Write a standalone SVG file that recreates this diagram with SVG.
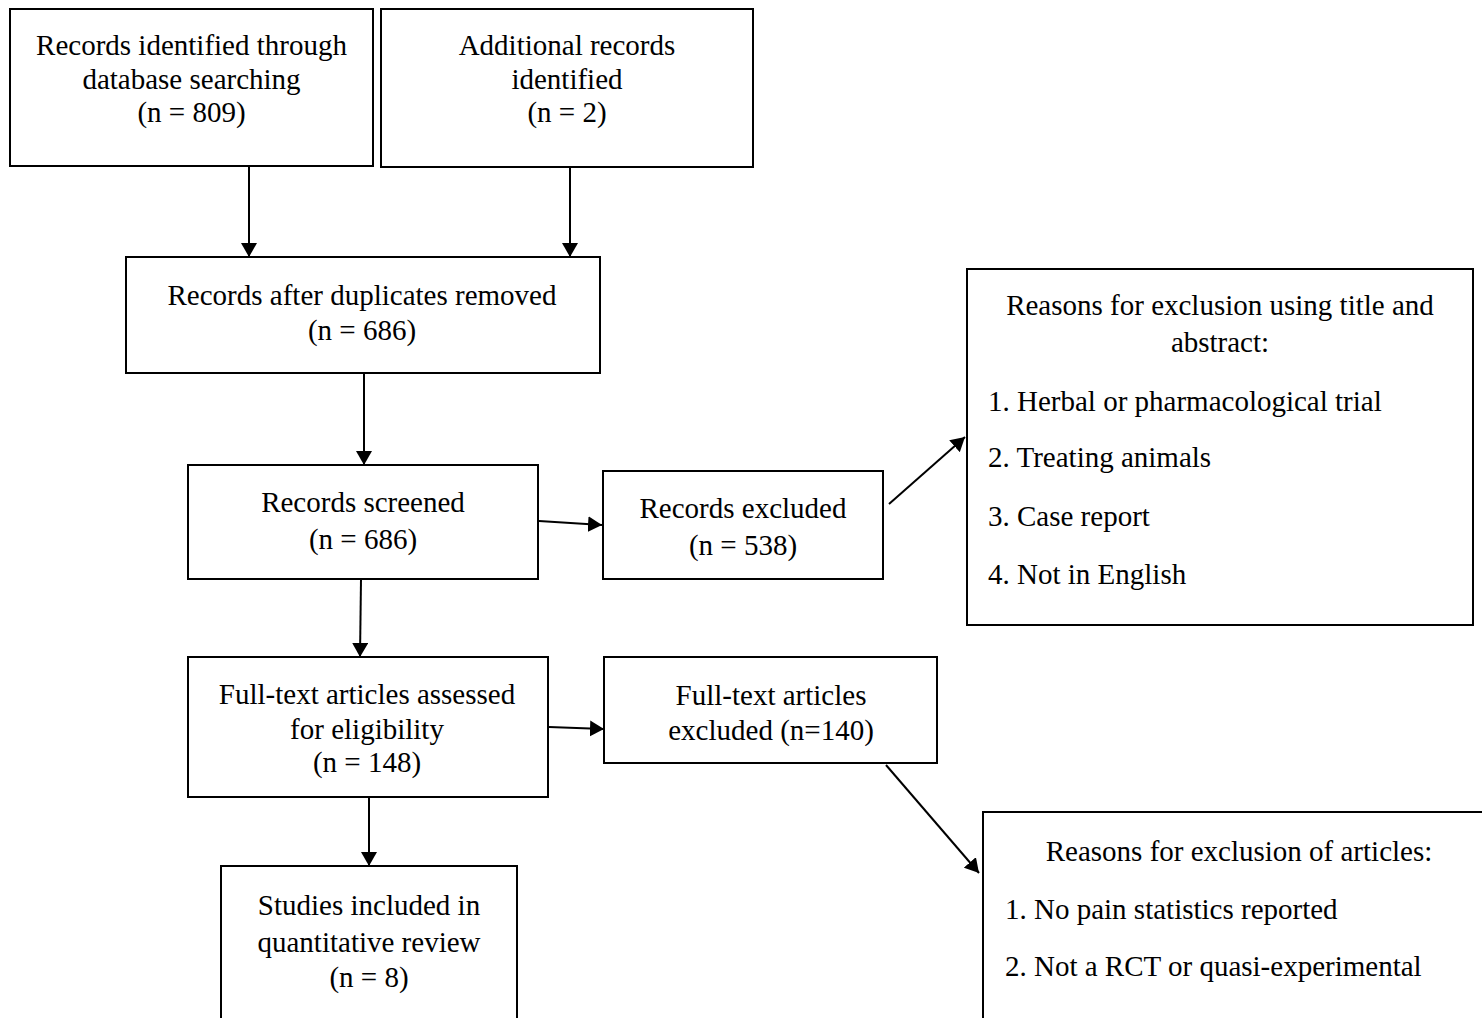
<svg xmlns="http://www.w3.org/2000/svg" width="1482" height="1018" viewBox="0 0 1482 1018">
<style>
  .box { fill: #ffffff; stroke: #000000; stroke-width: 2; }
  .t { font-family: "Liberation Serif", "Times New Roman", serif; font-size: 29px; fill: #000000; }
  .c { text-anchor: middle; }
  .edge { stroke: #000000; stroke-width: 2; fill: none; marker-end: url(#arrow); }
</style>
<defs>
  <marker id="arrow" markerUnits="userSpaceOnUse" markerWidth="16" markerHeight="16" refX="14" refY="8" orient="auto">
    <path d="M0,0 L14,8 L0,16 z" fill="#000000"/>
  </marker>
</defs>
<rect width="1482" height="1018" fill="#ffffff"/>

<g id="identified">
  <rect class="box" x="10" y="9" width="363" height="157"/>
  <text class="t c" x="191.5" y="55">Records identified through</text>
  <text class="t c" x="191.5" y="89">database searching</text>
  <text class="t c" x="191.5" y="122">(n = 809)</text>
</g>
<g id="additional">
  <rect class="box" x="381" y="9" width="372" height="158"/>
  <text class="t c" x="567" y="55">Additional records</text>
  <text class="t c" x="567" y="89">identified</text>
  <text class="t c" x="567" y="122">(n = 2)</text>
</g>
<g id="duplicates">
  <rect class="box" x="126" y="257" width="474" height="116"/>
  <text class="t c" x="362" y="305">Records after duplicates removed</text>
  <text class="t c" x="362" y="340">(n = 686)</text>
</g>
<g id="screened">
  <rect class="box" x="188" y="465" width="350" height="114"/>
  <text class="t c" x="363" y="512">Records screened</text>
  <text class="t c" x="363" y="549">(n = 686)</text>
</g>
<g id="excluded">
  <rect class="box" x="603" y="471" width="280" height="108"/>
  <text class="t c" x="743" y="518">Records excluded</text>
  <text class="t c" x="743" y="555">(n = 538)</text>
</g>
<g id="reasons-title-abstract">
  <rect class="box" x="967" y="269" width="506" height="356"/>
  <text class="t c" x="1220" y="315">Reasons for exclusion using title and</text>
  <text class="t c" x="1220" y="352">abstract:</text>
  <text class="t" x="988" y="411">1. Herbal or pharmacological trial</text>
  <text class="t" x="988" y="467">2. Treating animals</text>
  <text class="t" x="988" y="526">3. Case report</text>
  <text class="t" x="988" y="584">4. Not in English</text>
</g>
<g id="fulltext-assessed">
  <rect class="box" x="188" y="657" width="360" height="140"/>
  <text class="t c" x="367" y="704">Full-text articles assessed</text>
  <text class="t c" x="367" y="739">for eligibility</text>
  <text class="t c" x="367" y="772">(n = 148)</text>
</g>
<g id="fulltext-excluded">
  <rect class="box" x="604" y="657" width="333" height="106"/>
  <text class="t c" x="771" y="705">Full-text articles</text>
  <text class="t c" x="771" y="740">excluded (n=140)</text>
</g>
<g id="included">
  <rect class="box" x="221" y="866" width="296" height="170"/>
  <text class="t c" x="369" y="915">Studies included in</text>
  <text class="t c" x="369" y="952">quantitative review</text>
  <text class="t c" x="369" y="987">(n = 8)</text>
</g>
<g id="reasons-articles">
  <rect class="box" x="983" y="812" width="520" height="230"/>
  <text class="t c" x="1239" y="861">Reasons for exclusion of articles:</text>
  <text class="t" x="1005" y="919">1. No pain statistics reported</text>
  <text class="t" x="1005" y="976">2. Not a RCT or quasi-experimental</text>
</g>

<g id="connectors">
  <line class="edge" x1="249" y1="166" x2="249" y2="257"/>
  <line class="edge" x1="570" y1="168" x2="570" y2="257"/>
  <line class="edge" x1="364" y1="373" x2="364" y2="465"/>
  <line class="edge" x1="539" y1="521" x2="602" y2="525"/>
  <line class="edge" x1="889" y1="504" x2="965" y2="437"/>
  <line class="edge" x1="361" y1="579" x2="360" y2="657"/>
  <line class="edge" x1="549" y1="727" x2="604" y2="729"/>
  <line class="edge" x1="369" y1="797" x2="369" y2="866"/>
  <line class="edge" x1="886" y1="765" x2="979" y2="873"/>
</g>
</svg>
